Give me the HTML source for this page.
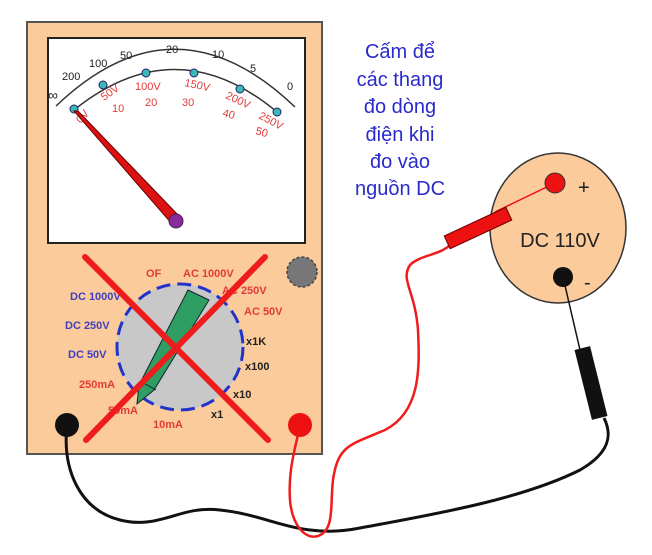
<!DOCTYPE html>
<html><head><meta charset="utf-8"><style>html,body{margin:0;padding:0;background:#fff}svg{display:block}</style></head>
<body>
<svg width="652" height="555" viewBox="0 0 652 555" xmlns="http://www.w3.org/2000/svg" font-family="Liberation Sans, sans-serif">
<rect x="0" y="0" width="652" height="555" fill="#fff"/>
<rect x="27" y="22" width="295" height="432" fill="#FBCB9B" stroke="#555" stroke-width="2"/>
<rect x="48" y="38" width="257" height="205" fill="#fff" stroke="#222" stroke-width="2"/>
<path d="M56,106 Q175,-8 295,107" fill="none" stroke="#333" stroke-width="1.5"/>
<path d="M74,110 Q176,28 277,112" fill="none" stroke="#333" stroke-width="1.5"/>
<g font-size="11" fill="#222">
<text x="48" y="100" font-size="14">∞</text>
<text x="62" y="80">200</text>
<text x="89" y="67">100</text>
<text x="120" y="59">50</text>
<text x="166" y="53">20</text>
<text x="212" y="58">10</text>
<text x="250" y="72">5</text>
<text x="287" y="90">0</text>
</g>
<g fill="#3cb8b8" stroke="#226" stroke-width="1">
<circle cx="74" cy="109" r="4"/><circle cx="103" cy="85" r="4"/><circle cx="146" cy="73" r="4"/>
<circle cx="194" cy="73" r="4"/><circle cx="240" cy="89" r="4"/><circle cx="277" cy="112" r="4"/>
</g>
<g font-size="11" fill="#e23a3a">
<text transform="translate(81,124) rotate(-50)">0V</text>
<text transform="translate(104,101) rotate(-35)">50V</text>
<text x="135" y="90">100V</text>
<text transform="translate(184,86) rotate(12)">150V</text>
<text transform="translate(225,98) rotate(25)">200V</text>
<text transform="translate(258,118) rotate(28)">250V</text>
<text x="112" y="112">10</text>
<text x="145" y="106">20</text>
<text x="182" y="106">30</text>
<text transform="translate(222,116) rotate(15)">40</text>
<text transform="translate(255,134) rotate(15)">50</text>
</g>
<polygon points="74,111 78,111 181,218 172,224" fill="#dd1111" stroke="#660000" stroke-width="1"/>
<circle cx="176" cy="221" r="7" fill="#8a2a9a" stroke="#402050" stroke-width="1"/>
<circle cx="180" cy="347" r="63" fill="#c8c8c8" stroke="#2233cc" stroke-width="3" stroke-dasharray="14,7"/>
<polygon points="188,290 209,300 154,390 137,404 139,385" fill="#2e9e62" stroke="#123" stroke-width="1"/>
<line x1="140" y1="381" x2="156" y2="390" stroke="#123" stroke-width="1"/>
<circle cx="302" cy="272" r="15" fill="#777" stroke="#444" stroke-width="1.5" stroke-dasharray="3,2"/>
<g font-size="11" font-weight="bold">
<text x="146" y="277" fill="#e23a3a">OF</text>
<text x="183" y="277" fill="#e23a3a">AC 1000V</text>
<text x="222" y="294" fill="#e23a3a">AC 250V</text>
<text x="244" y="315" fill="#e23a3a">AC 50V</text>
<text x="246" y="345" fill="#222">x1K</text>
<text x="245" y="370" fill="#222">x100</text>
<text x="233" y="398" fill="#222">x10</text>
<text x="211" y="418" fill="#222">x1</text>
<text x="153" y="428" fill="#e23a3a">10mA</text>
<text x="108" y="414" fill="#e23a3a">50mA</text>
<text x="79" y="388" fill="#e23a3a">250mA</text>
<text x="68" y="358" fill="#4040c0">DC 50V</text>
<text x="65" y="329" fill="#4040c0">DC 250V</text>
<text x="70" y="300" fill="#4040c0">DC 1000V</text>
</g>
<line x1="85" y1="257" x2="268" y2="440" stroke="#ee1c1c" stroke-width="6" stroke-linecap="round"/>
<line x1="265" y1="257" x2="86" y2="440" stroke="#ee1c1c" stroke-width="6" stroke-linecap="round"/>
<path d="M67,425 C62,470 80,510 120,520 C160,530 180,505 220,510 C270,515 300,540 360,528 C430,515 520,500 580,470 C615,450 610,430 604,418" fill="none" stroke="#111" stroke-width="3"/>
<path d="M300,425 C295,450 288,470 290,500 C292,525 305,540 318,536 C335,530 330,505 333,480 C338,445 350,445 385,430 C420,412 420,370 418,330 C415,290 400,280 410,265 C420,255 440,255 450,245" fill="none" stroke="#ee1c1c" stroke-width="2.5"/>
<circle cx="67" cy="425" r="12" fill="#111"/>
<circle cx="300" cy="425" r="12" fill="#ee1111"/>
<ellipse cx="558" cy="228" rx="68" ry="75" fill="#FBCB9B" stroke="#333" stroke-width="1.5"/>
<line x1="495" y1="212" x2="555" y2="183" stroke="#ee1111" stroke-width="1.5"/>
<line x1="563" y1="277" x2="580" y2="350" stroke="#111" stroke-width="1.5"/>
<rect x="-34" y="-7" width="68" height="14" fill="#ee1111" stroke="#600" stroke-width="1" transform="translate(478,228) rotate(-25)"/>
<rect x="-8" y="-36" width="16" height="72" fill="#111" transform="translate(591,383) rotate(-14)"/>
<circle cx="555" cy="183" r="10" fill="#ee1111" stroke="#333" stroke-width="1"/>
<text x="578" y="194" font-size="20" fill="#222">+</text>
<text x="560" y="247" font-size="20" fill="#222" text-anchor="middle">DC 110V</text>
<circle cx="563" cy="277" r="10" fill="#111"/>
<text x="584" y="289" font-size="20" fill="#222">-</text>
<g font-size="20" fill="#2a2acc" text-anchor="middle" font-family="Liberation Sans, 'Noto Sans CJK SC', sans-serif">
<text x="400" y="58">Cấm để</text>
<text x="400" y="86">các thang</text>
<text x="400" y="113">đo dòng</text>
<text x="400" y="141">điện khi</text>
<text x="400" y="168">đo vào</text>
<text x="400" y="195">nguồn DC</text>
</g>
</svg>
</body></html>
